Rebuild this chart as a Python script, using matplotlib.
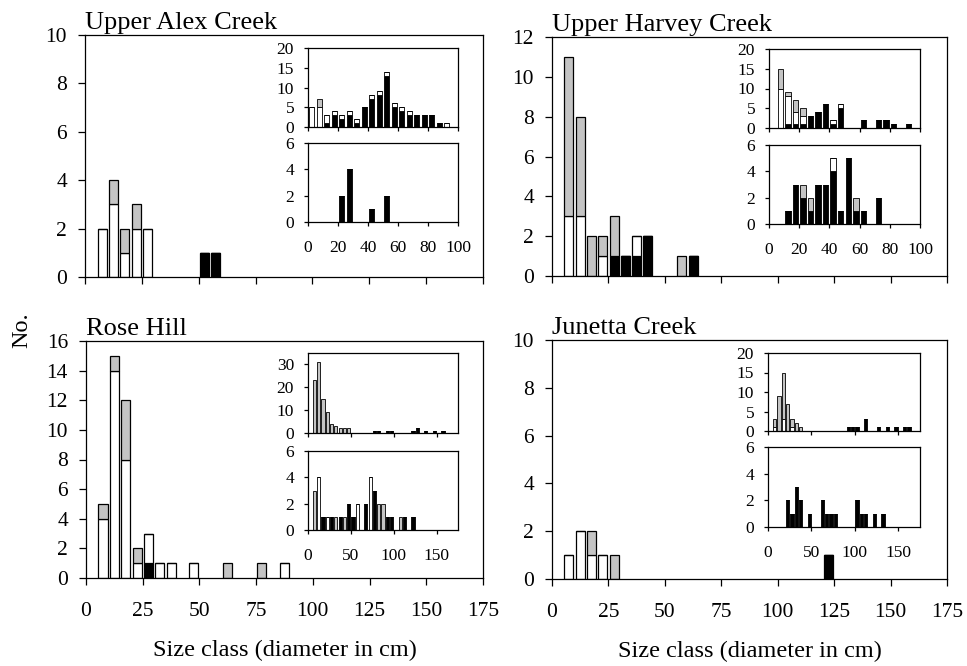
import matplotlib
matplotlib.use("Agg")
from matplotlib import pyplot as plt

plt.rcParams['font.family'] = ['Liberation Serif', 'DejaVu Serif']

W, H = 967, 666

# main panels: class mid-points (cm) and counts by category
ua_mid = [7.5, 12.5, 17.5, 22.5, 27.5, 52.5, 57.5]
ua_black = [0, 0, 0, 0, 0, 1, 1]
ua_white = [2, 3, 1, 2, 2, 0, 0]
ua_grey = [0, 1, 1, 1, 0, 0, 0]

uh_mid = [7.5, 12.5, 17.5, 22.5, 27.5, 32.5, 37.5, 42.5, 57.5, 62.5]
uh_black = [0, 0, 0, 0, 1, 1, 1, 2, 0, 1]
uh_white = [3, 3, 0, 1, 0, 0, 1, 0, 0, 0]
uh_grey = [8, 5, 2, 1, 2, 0, 0, 0, 1, 0]

rh_mid = [7.5, 12.5, 17.5, 22.5, 27.5, 32.5, 37.5, 47.5, 62.5, 77.5, 87.5]
rh_black = [0, 0, 0, 0, 1, 0, 0, 0, 0, 0, 0]
rh_white = [4, 14, 8, 1, 2, 1, 1, 1, 0, 0, 1]
rh_grey = [1, 1, 4, 1, 0, 0, 0, 0, 1, 1, 0]

jc_mid = [7.5, 12.5, 17.5, 22.5, 27.5, 122.5]
jc_black = [0, 0, 0, 0, 0, 1]
jc_white = [1, 2, 1, 1, 0, 0]
jc_grey = [0, 0, 1, 0, 1, 0]

# insets, upper (top) and lower (bot) plots
ua_top_mid = [2.5, 7.5, 12.5, 17.5, 22.5, 27.5, 32.5, 37.5, 42.5, 47.5,
              52.5, 57.5, 62.5, 67.5, 72.5, 77.5, 82.5, 87.5, 92.5]
ua_top_black = [0, 0, 1, 3, 2, 3, 1, 5, 7, 8, 13, 5, 4, 3, 3, 3, 3, 1, 0]
ua_top_white = [5, 5, 2, 1, 1, 1, 1, 0, 1, 1, 1, 1, 1, 1, 0, 0, 0, 0, 1]
ua_top_grey = [0, 2, 0, 0, 0, 0, 0, 0, 0, 0, 0, 0, 0, 0, 0, 0, 0, 0, 0]
ua_bot_mid = [22.5, 27.5, 42.5, 52.5]
ua_bot_black = [2, 4, 1, 2]
ua_bot_white = [0, 0, 0, 0]
ua_bot_grey = [0, 0, 0, 0]

uh_top_mid = [7.5, 12.5, 17.5, 22.5, 27.5, 32.5, 37.5, 42.5, 47.5,
              62.5, 72.5, 77.5, 82.5, 92.5]
uh_top_black = [0, 1, 1, 1, 3, 4, 6, 1, 5, 2, 2, 2, 1, 1]
uh_top_white = [10, 7, 3, 2, 0, 0, 0, 1, 1, 0, 0, 0, 0, 0]
uh_top_grey = [5, 1, 3, 2, 0, 0, 0, 0, 0, 0, 0, 0, 0, 0]
uh_bot_mid = [12.5, 17.5, 22.5, 27.5, 32.5, 37.5, 42.5, 47.5, 52.5, 57.5, 62.5, 72.5]
uh_bot_black = [1, 3, 2, 1, 3, 3, 4, 1, 5, 1, 1, 2]
uh_bot_white = [0, 0, 0, 0, 0, 0, 1, 0, 0, 0, 0, 0]
uh_bot_grey = [0, 0, 1, 1, 0, 0, 0, 0, 0, 1, 0, 0]

rh_top_mid = [7.5, 12.5, 17.5, 22.5, 27.5, 32.5, 37.5, 42.5, 47.5,
              77.5, 82.5, 92.5, 97.5, 122.5, 127.5, 137.5, 147.5, 157.5]
rh_top_black = [0, 0, 0, 0, 0, 0, 0, 0, 0, 1, 1, 1, 1, 1, 2, 1, 1, 1]
rh_top_white = [0] * 18
rh_top_grey = [23, 31, 15, 9, 4, 3, 2, 2, 2, 0, 0, 0, 0, 0, 0, 0, 0, 0]
rh_bot_mid = [7.5, 12.5, 17.5, 22.5, 27.5, 32.5, 37.5, 42.5, 47.5, 52.5, 57.5,
              67.5, 72.5, 77.5, 82.5, 87.5, 92.5, 97.5, 107.5, 112.5, 122.5]
rh_bot_black = [0, 0, 1, 0, 1, 0, 1, 0, 2, 1, 0, 2, 0, 3, 0, 0, 1, 1, 0, 1, 1]
rh_bot_white = [0, 4, 0, 1, 0, 0, 0, 0, 0, 0, 2, 0, 4, 0, 0, 0, 0, 0, 0, 0, 0]
rh_bot_grey = [3, 0, 0, 0, 0, 1, 0, 1, 0, 0, 0, 0, 0, 0, 2, 2, 0, 0, 1, 0, 0]

jc_top_mid = [7.5, 12.5, 17.5, 22.5, 27.5, 32.5, 37.5, 92.5, 97.5, 102.5,
              112.5, 127.5, 137.5, 147.5, 157.5, 162.5]
jc_top_black = [0, 0, 0, 0, 0, 0, 0, 1, 1, 1, 3, 1, 1, 1, 1, 1]
jc_top_white = [1, 0, 3, 0, 1, 0, 0, 0, 0, 0, 0, 0, 0, 0, 0, 0]
jc_top_grey = [2, 9, 12, 7, 2, 2, 1, 0, 0, 0, 0, 0, 0, 0, 0, 0]
jc_bot_mid = [22.5, 27.5, 32.5, 37.5, 47.5, 62.5, 67.5, 72.5, 77.5,
              102.5, 107.5, 112.5, 122.5, 132.5]
jc_bot_black = [2, 1, 3, 2, 1, 2, 1, 1, 1, 2, 1, 1, 1, 1]
jc_bot_white = [0] * 14
jc_bot_grey = [0] * 14

titles = ["Upper Alex Creek", "Upper Harvey Creek", "Rose Hill", "Junetta Creek"]
main_xticks = [0, 25, 50, 75, 100, 125, 150, 175]

GREY = "#c4c4c4"


def px_axes(fig, x0, y0, x1, y1):
    return fig.add_axes([x0 / W, 1 - y1 / H, (x1 - x0) / W, (y1 - y0) / H])


def stacked(ax, mid, black, white, grey, width, lw):
    bottom = [0] * len(mid)
    for vals, col in ((black, "black"), (white, "white"), (grey, GREY)):
        ax.bar(mid, vals, width=width, bottom=bottom, color=col,
               edgecolor="black", linewidth=lw)
        bottom = [b + v for b, v in zip(bottom, vals)]


def style(ax, size, tlen, ypad):
    for s in ax.spines.values():
        s.set_linewidth(0.9)
    ax.tick_params(direction="out", length=tlen, width=0.9, labelsize=size)
    ax.tick_params(axis="y", pad=ypad)


fig = plt.figure(figsize=(W / 100, H / 100), dpi=100)

mains = [
    ((85, 35, 483, 277), ua_mid, ua_black, ua_white, ua_grey, 10, 2, False),
    ((552, 37, 947, 276), uh_mid, uh_black, uh_white, uh_grey, 12, 2, False),
    ((86, 341, 483, 578), rh_mid, rh_black, rh_white, rh_grey, 16, 2, True),
    ((552, 340, 947, 579), jc_mid, jc_black, jc_white, jc_grey, 10, 2, True),
]
for i, (box, mid, bk, wh, gr, ymax, ystep, lab) in enumerate(mains):
    ax = px_axes(fig, *box)
    stacked(ax, mid, bk, wh, gr, 4, 0.9)
    ax.set_xlim(0, 175)
    ax.set_ylim(0, ymax)
    ax.set_xticks(main_xticks)
    ax.set_yticks(range(0, ymax + 1, ystep))
    style(ax, 15.5, 5, 8)
    if not lab:
        ax.set_xticklabels([])
    else:
        ax.tick_params(axis="x", pad=12)
    ax.set_title(titles[i], loc="left", fontsize=19, pad=4)
    if lab:
        ax.set_xlabel("Size class (diameter in cm)", fontsize=17.5, labelpad=14)

insets = [
    ((308, 48, 458, 127), ua_top_mid, ua_top_black, ua_top_white, ua_top_grey,
     (308, 143, 458, 222), ua_bot_mid, ua_bot_black, ua_bot_white, ua_bot_grey,
     100, 20, 20, 5, 3.6),
    ((769, 49, 920, 128), uh_top_mid, uh_top_black, uh_top_white, uh_top_grey,
     (769, 145, 920, 224), uh_bot_mid, uh_bot_black, uh_bot_white, uh_bot_grey,
     100, 20, 20, 5, 3.6),
    ((308, 353, 458, 433), rh_top_mid, rh_top_black, rh_top_white, rh_top_grey,
     (308, 451, 458, 530), rh_bot_mid, rh_bot_black, rh_bot_white, rh_bot_grey,
     175, 50, 35, 10, 3.8),
    ((768, 353, 920, 431), jc_top_mid, jc_top_black, jc_top_white, jc_top_grey,
     (768, 447, 920, 527), jc_bot_mid, jc_bot_black, jc_bot_white, jc_bot_grey,
     175, 50, 20, 5, 3.8),
]
for (tbox, tm, tb, tw, tg, bbox, bm, bb, bw, bg, xmax, xstep, tymax, tystep, bw_) in insets:
    top = px_axes(fig, *tbox)
    stacked(top, tm, tb, tw, tg, bw_, 0.6)
    top.set_xlim(0, xmax)
    top.set_ylim(0, tymax)
    top.set_xticks(range(0, 151 if xmax > 100 else 101, xstep))
    top.set_xticklabels([])
    top.set_yticks(range(0, 31 if tymax == 35 else tymax + 1, tystep))
    style(top, 12.5, 3, 7)

    bot = px_axes(fig, *bbox)
    stacked(bot, bm, bb, bw, bg, bw_, 0.6)
    bot.set_xlim(0, xmax)
    bot.set_ylim(0, 6)
    bot.set_xticks(range(0, 151 if xmax > 100 else 101, xstep))
    bot.set_yticks([0, 2, 4, 6])
    style(bot, 12.5, 3, 7)
    bot.tick_params(axis="x", pad=10)

fig.text(22 / W, 1 - 330 / H, "No.", rotation=90, fontsize=17.5,
         ha="center", va="center")

fig.savefig("out.png", dpi=100)
